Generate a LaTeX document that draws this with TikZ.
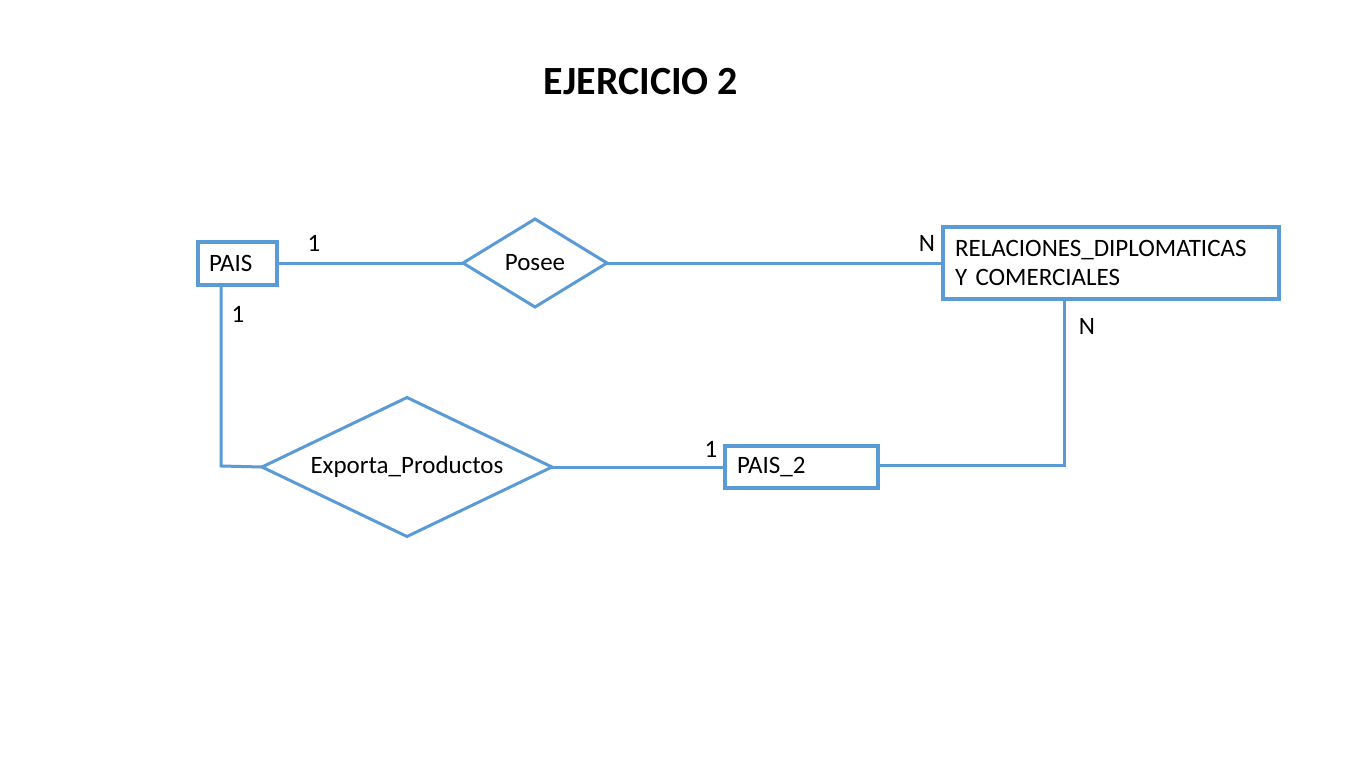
\documentclass[tikz,border=0pt]{standalone}
\usepackage{fontspec}
\setmainfont{Carlito}
\usetikzlibrary{shapes.geometric}
\definecolor{erblue}{HTML}{5B9BD5}
\begin{document}
\begin{tikzpicture}[x=1pt,y=-1pt,
  lbl/.style={font=\fontsize{25}{29}\selectfont, inner sep=0pt},
  entity/.style={draw=erblue, line width=4pt, rectangle, outer sep=0pt, inner ysep=0pt,
    font=\fontsize{25}{29}\selectfont, align=left},
  rel/.style={draw=erblue, line width=3pt, diamond, inner sep=0pt, outer sep=0pt,
    font=\fontsize{25}{29}\selectfont},
  conn/.style={draw=erblue, line width=3pt}]
\useasboundingbox (0,0) rectangle (1366,768);
\fill[white] (0,0) rectangle (1366,768);
\node[font=\bfseries\fontsize{40}{48}\selectfont] (title) at (641,82) {EJERCICIO 2};
\node[entity, inner xsep=11pt, text width=57pt, minimum height=43pt] (pais) at (237.5,263) {PAIS};
\node[rel, aspect=1.64, minimum width=144pt, minimum height=88pt] (posee) at (535,263) {Posee};
\node[entity, inner xsep=12pt, text width=312pt, minimum height=72pt] (rd) at (1111,263) {RELACIONES\_DIPLOMATICAS\\Y COMERCIALES};
\node[rel, aspect=2.09, minimum width=290pt, minimum height=139pt] (exp) at (407,467) {Exporta\_Productos};
\node[entity, inner xsep=12pt, text width=129pt, minimum height=42pt] (p2) at (801.5,467) {PAIS\_2};
\coordinate (c1) at (221,466);
\coordinate (c2) at (1064,465);
\draw[conn] (pais.east) -- (posee.west);
\draw[conn] (posee.east) -- (rd.west);
\draw[conn] (pais.south -| c1) -- (c1) -- (exp.west);
\draw[conn] (exp.east) -- (p2.west);
\draw[conn] (p2.east |- c2) -- (c2) -- (rd.south -| c2);
\node[lbl] (l1) at (314,243) {1};
\node[lbl] (l2) at (927,243) {N};
\node[lbl] (l3) at (238,314) {1};
\node[lbl] (l4) at (1087,326) {N};
\node[lbl] (l5) at (711,449) {1};
\end{tikzpicture}
\end{document}
